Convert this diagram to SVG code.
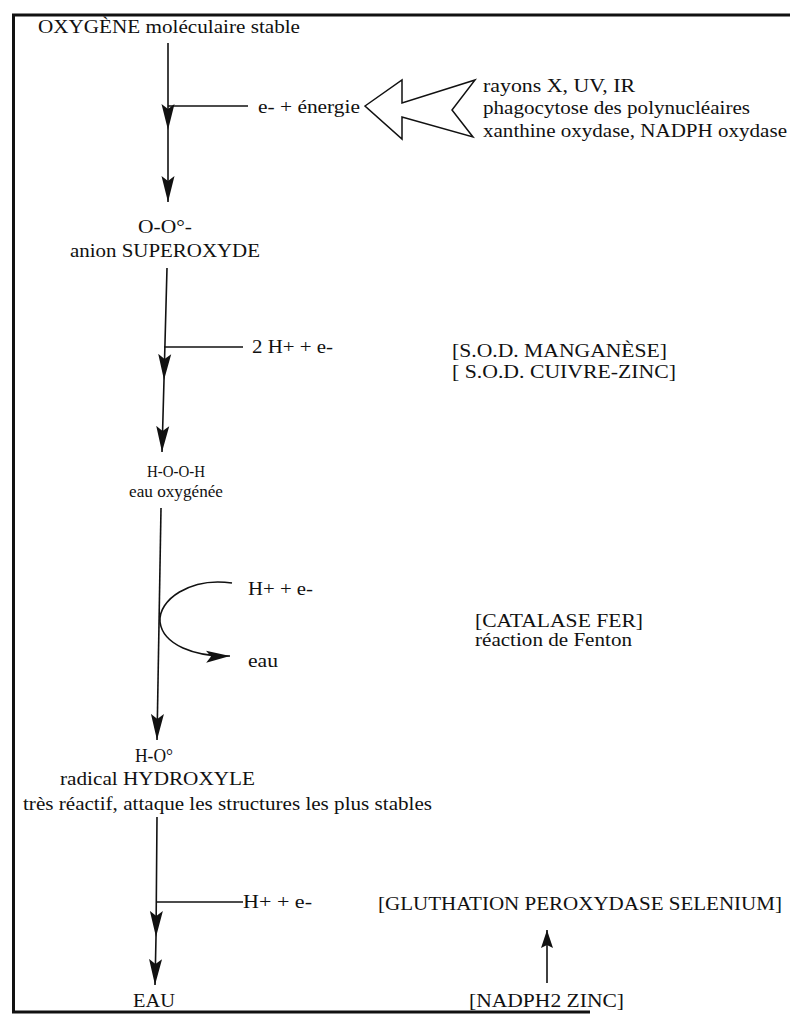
<svg xmlns="http://www.w3.org/2000/svg" width="790" height="1015" viewBox="0 0 790 1015">
<style>
text{font-family:"Liberation Serif","Times New Roman",serif;font-size:18px;fill:#111}
.ln{stroke:#111;stroke-width:1.6;fill:none}
.fr{stroke:#111;stroke-width:3;fill:none}
</style>
<defs>
<marker id="ah" markerUnits="userSpaceOnUse" viewBox="0 0 28 14" markerWidth="28" markerHeight="14" refX="26" refY="7" orient="auto">
<path d="M0,0.5 L26,7 L0,13.5 L5,7 Z" fill="#111"/>
</marker>
<marker id="ah2" markerUnits="userSpaceOnUse" viewBox="0 0 26 14" markerWidth="26" markerHeight="14" refX="24" refY="7" orient="auto">
<path d="M0,1 L24,7 L0,13 L5,7 Z" fill="#111"/>
</marker>
<marker id="ah3" markerUnits="userSpaceOnUse" viewBox="0 0 20 14" markerWidth="20" markerHeight="14" refX="18" refY="7" orient="auto">
<path d="M0,1 L18,7 L0,13 L3,7 Z" fill="#111"/>
</marker>
</defs>
<rect width="790" height="1015" fill="#fff"/>
<g id="frame">
<path class="fr" d="M790,15 L13.5,15 L13.5,1012 L590,1012"/>
</g>
<g id="connectors">
<path class="ln" d="M168,43 L168,130 L168,202" marker-mid="url(#ah)" marker-end="url(#ah)"/>
<line class="ln" x1="168" y1="106" x2="248" y2="106"/>
<path class="ln" d="M167,268 L164,380 L162,452" marker-mid="url(#ah)" marker-end="url(#ah)"/>
<line class="ln" x1="164" y1="347" x2="243" y2="347"/>
<path class="ln" d="M161,508 L157,740" marker-end="url(#ah)"/>
<path class="ln" d="M232,583 C190,577 158,600 160,622 C163,645 195,657 230,656" marker-end="url(#ah2)"/>
<path class="ln" d="M157,817 L156,937 L155,985" marker-mid="url(#ah)" marker-end="url(#ah)"/>
<line class="ln" x1="156" y1="902" x2="243" y2="902"/>
<path class="ln" stroke-width="1.3" d="M547,983 L547,930" marker-end="url(#ah3)"/>
<polygon id="big-arrow" points="365,106 402,80 402,103 475,80 452,110 473,137 402,117 402,139" fill="#fff" stroke="#111" stroke-width="1.5" stroke-linejoin="miter"/>
</g>
<g id="n-oxygene"><text x="38" y="33" textLength="262" lengthAdjust="spacingAndGlyphs">OXYGÈNE moléculaire stable</text></g>
<g id="n-energie"><text x="258" y="113" textLength="102" lengthAdjust="spacingAndGlyphs">e- + énergie</text></g>
<g id="n-sources">
<text x="483" y="92" textLength="152" lengthAdjust="spacingAndGlyphs">rayons X, UV, IR</text>
<text x="483" y="114" textLength="267" lengthAdjust="spacingAndGlyphs">phagocytose des polynucléaires</text>
<text x="483" y="137" textLength="304" lengthAdjust="spacingAndGlyphs">xanthine oxydase, NADPH oxydase</text>
</g>
<g id="n-superoxyde">
<text x="138" y="233" textLength="54" lengthAdjust="spacingAndGlyphs">O-O°-</text>
<text x="70" y="257" textLength="190" lengthAdjust="spacingAndGlyphs">anion SUPEROXYDE</text>
</g>
<g id="n-2h"><text x="252" y="353" textLength="81" lengthAdjust="spacingAndGlyphs">2 H+ + e-</text></g>
<g id="n-sod">
<text x="452" y="357" textLength="215" lengthAdjust="spacingAndGlyphs">[S.O.D. MANGANÈSE]</text>
<text x="452" y="378" textLength="224" lengthAdjust="spacingAndGlyphs">[ S.O.D. CUIVRE-ZINC]</text>
</g>
<g id="n-hooh">
<text x="147" y="477" textLength="58" lengthAdjust="spacingAndGlyphs" style="font-size:17px">H-O-O-H</text>
<text x="129" y="497" textLength="94" lengthAdjust="spacingAndGlyphs" style="font-size:17px">eau oxygénée</text>
</g>
<g id="n-h-e-1"><text x="248" y="595" textLength="65" lengthAdjust="spacingAndGlyphs">H+ + e-</text></g>
<g id="n-eau"><text x="248" y="667" textLength="30" lengthAdjust="spacingAndGlyphs">eau</text></g>
<g id="n-catalase">
<text x="475" y="627" textLength="168" lengthAdjust="spacingAndGlyphs">[CATALASE FER]</text>
<text x="475" y="646" textLength="157" lengthAdjust="spacingAndGlyphs">réaction de Fenton</text>
</g>
<g id="n-hydroxyle">
<text x="135" y="762" textLength="38" lengthAdjust="spacingAndGlyphs">H-O°</text>
<text x="60" y="785" textLength="195" lengthAdjust="spacingAndGlyphs">radical HYDROXYLE</text>
<text x="23" y="810" textLength="409" lengthAdjust="spacingAndGlyphs">très réactif, attaque les structures les plus stables</text>
</g>
<g id="n-h-e-2"><text x="243" y="908" textLength="69" lengthAdjust="spacingAndGlyphs">H+ + e-</text></g>
<g id="n-gluthation"><text x="378" y="910" textLength="404" lengthAdjust="spacingAndGlyphs">[GLUTHATION PEROXYDASE SELENIUM]</text></g>
<g id="n-eau-final"><text x="133" y="1007" textLength="42" lengthAdjust="spacingAndGlyphs">EAU</text></g>
<g id="n-nadph"><text x="469" y="1007" textLength="155" lengthAdjust="spacingAndGlyphs">[NADPH2 ZINC]</text></g>
</svg>
